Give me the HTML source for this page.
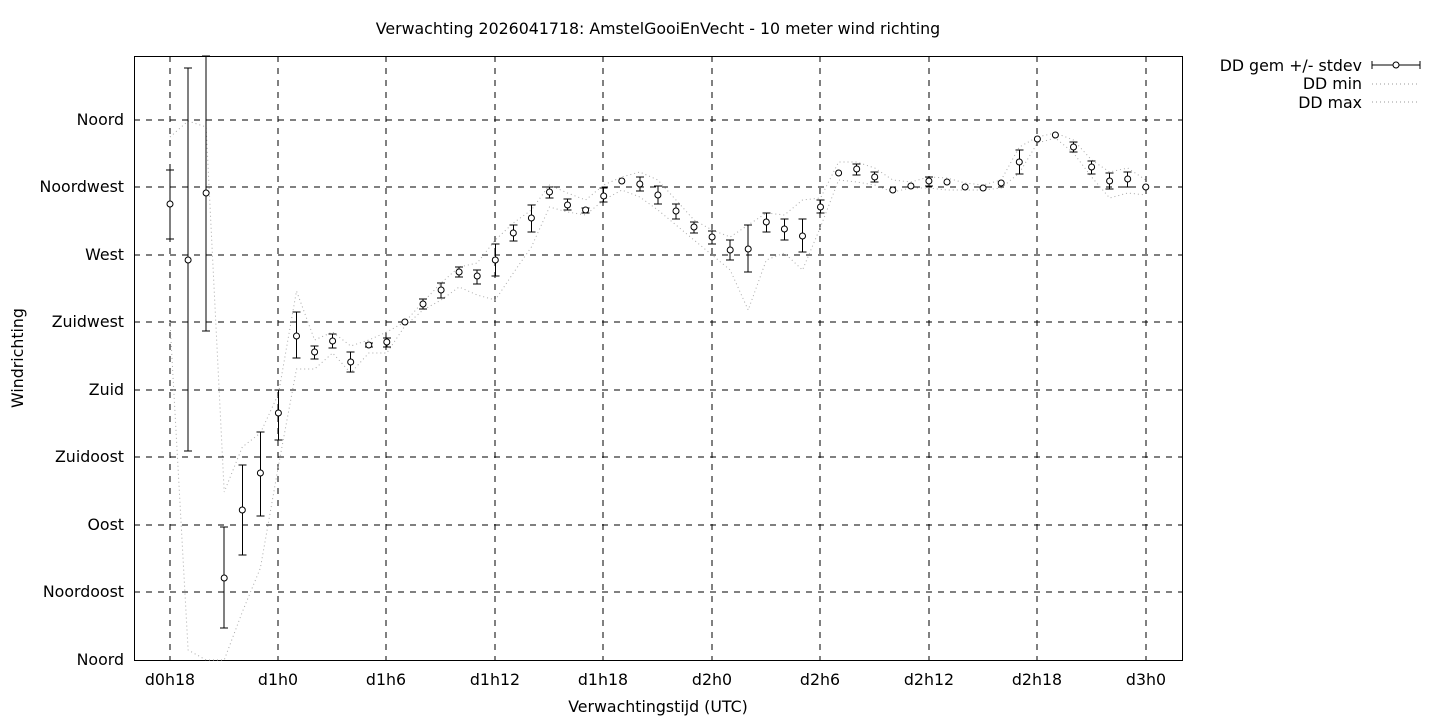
<!DOCTYPE html>
<html><head><meta charset="utf-8"><style>
body{margin:0;background:#fff;width:1440px;height:720px;overflow:hidden}
svg{font-family:"DejaVu Sans","Liberation Sans",sans-serif;font-size:15.8px}
</style></head><body>
<svg id="s" width="1440" height="720" xmlns="http://www.w3.org/2000/svg">
<rect width="1440" height="720" fill="#fff"/>
<g stroke="#000" stroke-width="1" stroke-dasharray="6,6" fill="none" shape-rendering="crispEdges">
<line x1="134" y1="120" x2="1183" y2="120"/><line x1="134" y1="187" x2="1183" y2="187"/>
<line x1="134" y1="255" x2="1183" y2="255"/><line x1="134" y1="322" x2="1183" y2="322"/>
<line x1="134" y1="390" x2="1183" y2="390"/><line x1="134" y1="457" x2="1183" y2="457"/>
<line x1="134" y1="525" x2="1183" y2="525"/><line x1="134" y1="592" x2="1183" y2="592"/>
<line x1="170" y1="56" x2="170" y2="660"/><line x1="278" y1="56" x2="278" y2="660"/>
<line x1="386" y1="56" x2="386" y2="660"/><line x1="495" y1="56" x2="495" y2="660"/>
<line x1="603" y1="56" x2="603" y2="660"/><line x1="712" y1="56" x2="712" y2="660"/>
<line x1="820" y1="56" x2="820" y2="660"/><line x1="929" y1="56" x2="929" y2="660"/>
<line x1="1037" y1="56" x2="1037" y2="660"/><line x1="1146" y1="56" x2="1146" y2="660"/>
</g>
<rect x="134.5" y="56.5" width="1048" height="604" fill="none" stroke="#000" shape-rendering="crispEdges"/>
<g id="d" shape-rendering="crispEdges"></g>
<g text-anchor="end">
<text x="124" y="125">Noord</text><text x="124" y="192">Noordwest</text>
<text x="124" y="260">West</text><text x="124" y="327">Zuidwest</text>
<text x="124" y="395">Zuid</text><text x="124" y="462">Zuidoost</text>
<text x="124" y="530">Oost</text><text x="124" y="597">Noordoost</text>
<text x="124" y="665">Noord</text>
</g>
<g text-anchor="middle">
<text x="170" y="685">d0h18</text><text x="278" y="685">d1h0</text><text x="386" y="685">d1h6</text>
<text x="495" y="685">d1h12</text><text x="603" y="685">d1h18</text><text x="712" y="685">d2h0</text>
<text x="820" y="685">d2h6</text><text x="929" y="685">d2h12</text><text x="1037" y="685">d2h18</text>
<text x="1146" y="685">d3h0</text>
<text x="658" y="34">Verwachting 2026041718: AmstelGooiEnVecht - 10 meter wind richting</text>
<text x="658" y="712">Verwachtingstijd (UTC)</text>
<text transform="translate(23,358) rotate(-90)">Windrichting</text>
</g>
<g text-anchor="end">
<text x="1362" y="71">DD gem +/- stdev</text><text x="1362" y="89">DD min</text><text x="1362" y="108">DD max</text>
</g>
<g stroke="#000" fill="none">
<line x1="1372" y1="65" x2="1420" y2="65"/><line x1="1372" y1="61" x2="1372" y2="69"/><line x1="1420" y1="61" x2="1420" y2="69"/>
<circle cx="1396" cy="65" r="3" fill="#fff"/>
</g>
<g stroke="#999" stroke-dasharray="1,3"><line x1="1372" y1="84" x2="1420" y2="84"/><line x1="1372" y1="102" x2="1420" y2="102"/></g>
</svg>
<script>
var m=[[204,170,239],[260,68,451],[193,56,331],[578,527,628],[510,465,555],[473,432,516],[413,390,440],[336,312,358],[352,346,359],[341,334,348],[362,352,372],[345,343,347],[342,338,347],[322,322,322],[304,299,309],[290,283,298],[272,267,277],[276,270,284],[260,244,276],[233,225,241],[218,205,232],[192,187,198],[205,199,210],[210,208,213],[196,188,202],[181,181,181],[184,177,191],[195,186,204],[211,204,219],[227,222,233],[237,231,244],[250,240,260],[249,225,272],[222,213,232],[229,219,240],[236,219,252],[207,200,213],[173,173,173],[169,164,175],[177,172,182],[190,190,190],[186,186,186],[181,177,186],[182,182,182],[187,187,187],[188,188,188],[183,183,183],[162,150,174],[139,139,139],[135,135,135],[147,142,152],[167,161,174],[181,173,189],[179,172,187],[187,187,187]];
var up=[137,121,127,492,447,433,394,291,340,332,346,340,332,322,302,283,267,263,240,223,210,185,193,200,185,177,172,180,200,220,230,237,225,213,215,200,198,162,162,168,180,182,177,178,183,185,180,147,137,133,140,160,172,168,180];
var lo=[322,650,660,660,612,568,466,369,369,353,373,353,353,326,310,300,287,295,300,273,247,207,212,215,200,190,197,210,225,240,255,270,310,260,253,270,227,180,182,185,192,188,188,190,190,190,188,173,143,138,153,177,198,193,195];
var X=i=>170+i*18.07,s='';
[up,lo].forEach(a=>{s+='<polyline fill="none" stroke="#aaa" stroke-dasharray="1,3" shape-rendering="auto" points="'+a.map((y,i)=>X(i).toFixed(1)+','+y).join(' ')+'"/>';});
m.forEach((p,i)=>{var x=X(i).toFixed(1);
if(p[2]-p[1]>1){s+='<line x1="'+x+'" y1="'+p[1]+'" x2="'+x+'" y2="'+p[2]+'" stroke="#000"/>';
s+='<line x1="'+(x-4)+'" y1="'+p[1]+'" x2="'+(+x+4)+'" y2="'+p[1]+'" stroke="#000"/><line x1="'+(x-4)+'" y1="'+p[2]+'" x2="'+(+x+4)+'" y2="'+p[2]+'" stroke="#000"/>';}
s+='<circle cx="'+x+'" cy="'+p[0]+'" r="3" fill="#fff" stroke="#000" shape-rendering="auto"/>';});
document.getElementById('d').innerHTML=s;
</script>
</body></html>
